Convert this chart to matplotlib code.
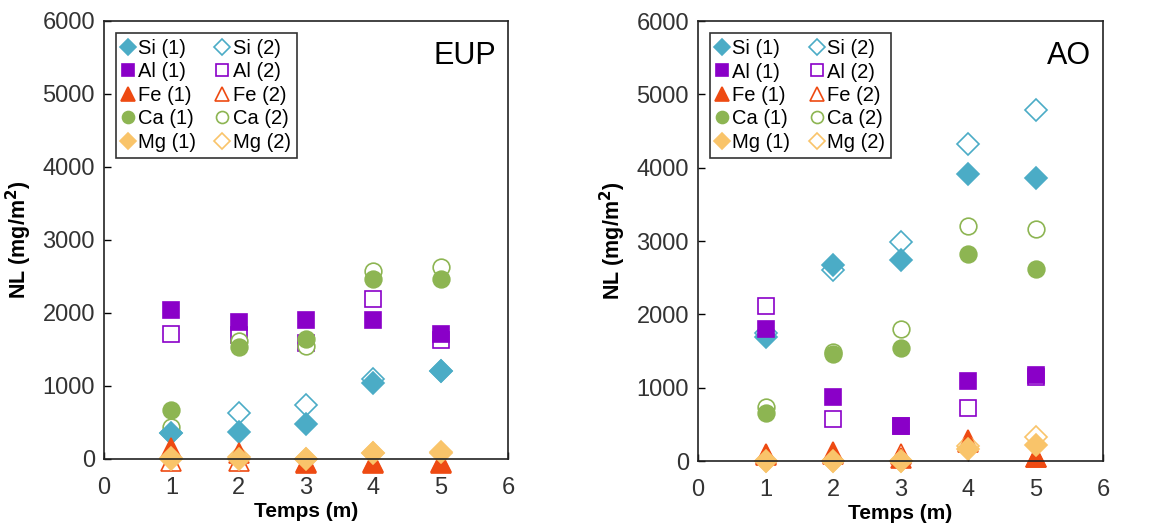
import matplotlib
matplotlib.use("Agg")
import matplotlib.pyplot as plt

plt.rcParams['font.family'] = ['Liberation Sans', 'DejaVu Sans']

# x positions (months)
temps = [1, 2, 3, 4, 5]

# EUP panel, run (1) and run (2)
eup_si1 = [356, 365, 483, 1040, 1200]
eup_si2 = [360, 630, 743, 1100, 1210]
eup_al1 = [2034, 1874, 1897, 1906, 1715]
eup_al2 = [1715, 1700, 1590, 2193, 1632]
eup_fe1 = [150, 80, -50, -60, -60]
eup_fe2 = [-30, -30, -40, -40, -40]
eup_ca1 = [675, 1532, 1646, 2462, 2462]
eup_ca2 = [438, 1610, 1541, 2581, 2636]
eup_mg1 = [10, 0, 0, 80, 95]
eup_mg2 = [0, 30, 0, 80, 80]

# AO panel
ao_si1 = [1694, 2680, 2738, 3919, 3860]
ao_si2 = [1740, 2602, 2988, 4328, 4791]
ao_al1 = [1807, 867, 481, 1094, 1172]
ao_al2 = [2112, 572, 480, 718, 1150]
ao_fe1 = [100, 127, 40, 263, 60]
ao_fe2 = [80, 100, 100, 290, 60]
ao_ca1 = [649, 1458, 1535, 2820, 2620]
ao_ca2 = [740, 1490, 1807, 3206, 3170]
ao_mg1 = [0, 0, 0, 170, 220]
ao_mg2 = [0, 0, 0, 200, 330]

elements = ['Si', 'Al', 'Fe', 'Ca', 'Mg']
colors = {'Si': '#4BACC6', 'Al': '#8A00C8', 'Fe': '#EE4A12',
          'Ca': '#8DB552', 'Mg': '#F9C46A'}
markers = {'Si': ('D', 11), 'Al': ('s', 12), 'Fe': ('^', 14),
           'Ca': ('o', 12), 'Mg': ('D', 11)}

fig = plt.figure(figsize=(11.7, 5.23), dpi=100)
ax1 = fig.add_axes([0.0889, 0.1224, 0.3453, 0.8375])
ax2 = fig.add_axes([0.5966, 0.1185, 0.3462, 0.8410])

panels = [
    (ax1, 'EUP', {'Si': (eup_si1, eup_si2), 'Al': (eup_al1, eup_al2), 'Fe': (eup_fe1, eup_fe2),
                  'Ca': (eup_ca1, eup_ca2), 'Mg': (eup_mg1, eup_mg2)}),
    (ax2, 'AO', {'Si': (ao_si1, ao_si2), 'Al': (ao_al1, ao_al2), 'Fe': (ao_fe1, ao_fe2),
                 'Ca': (ao_ca1, ao_ca2), 'Mg': (ao_mg1, ao_mg2)}),
]

for ax, name, data in panels:
    h1, h2 = [], []
    # open markers first so the filled ones sit on top
    for el in elements:
        m, ms = markers[el]
        ln, = ax.plot(temps, data[el][1], linestyle='none', marker=m, ms=ms,
                      mfc='white', mec=colors[el], mew=1.2, clip_on=False,
                      label=el + ' (2)')
        h2.append(ln)
    for el in elements:
        m, ms = markers[el]
        ln, = ax.plot(temps, data[el][0], linestyle='none', marker=m, ms=ms,
                      mfc=colors[el], mec=colors[el], mew=1.2, clip_on=False,
                      label=el + ' (1)')
        h1.append(ln)

    ax.set_xlim(0, 6)
    ax.set_ylim(0, 6000)
    ax.set_xticks(range(0, 7))
    ax.set_yticks(range(0, 6001, 1000))
    ax.tick_params(direction='in', labelsize=17, length=5, width=1,
                   labelcolor='#333333')
    ax.tick_params(axis='x', pad=13)
    ax.tick_params(axis='y', pad=6.5)
    for sp in ax.spines.values():
        sp.set_linewidth(1.2)
        sp.set_color('#222222')

    ax.set_xlabel('Temps (m)', fontsize=15, fontweight='bold', labelpad=2)
    ax.set_ylabel('NL (mg/m$^\\mathbf{2}$)', fontsize=15.5, fontweight='bold', labelpad=6)
    ax.text(0.97, 0.955, name, transform=ax.transAxes, ha='right', va='top',
            fontsize=22)

    leg = ax.legend(h1 + h2, [h.get_label() for h in h1 + h2], ncol=2,
                    loc='upper left', bbox_to_anchor=(0.03, 0.973),
                    fontsize=14.5, frameon=True, fancybox=False,
                    edgecolor='black', handlelength=0.6, handletextpad=0.2,
                    columnspacing=1.0, labelspacing=0.22, borderpad=0.3,
                    markerscale=0.72, borderaxespad=0)
    leg.get_frame().set_linewidth(1.2)

fig.savefig('out.png', dpi=100, facecolor='white')
